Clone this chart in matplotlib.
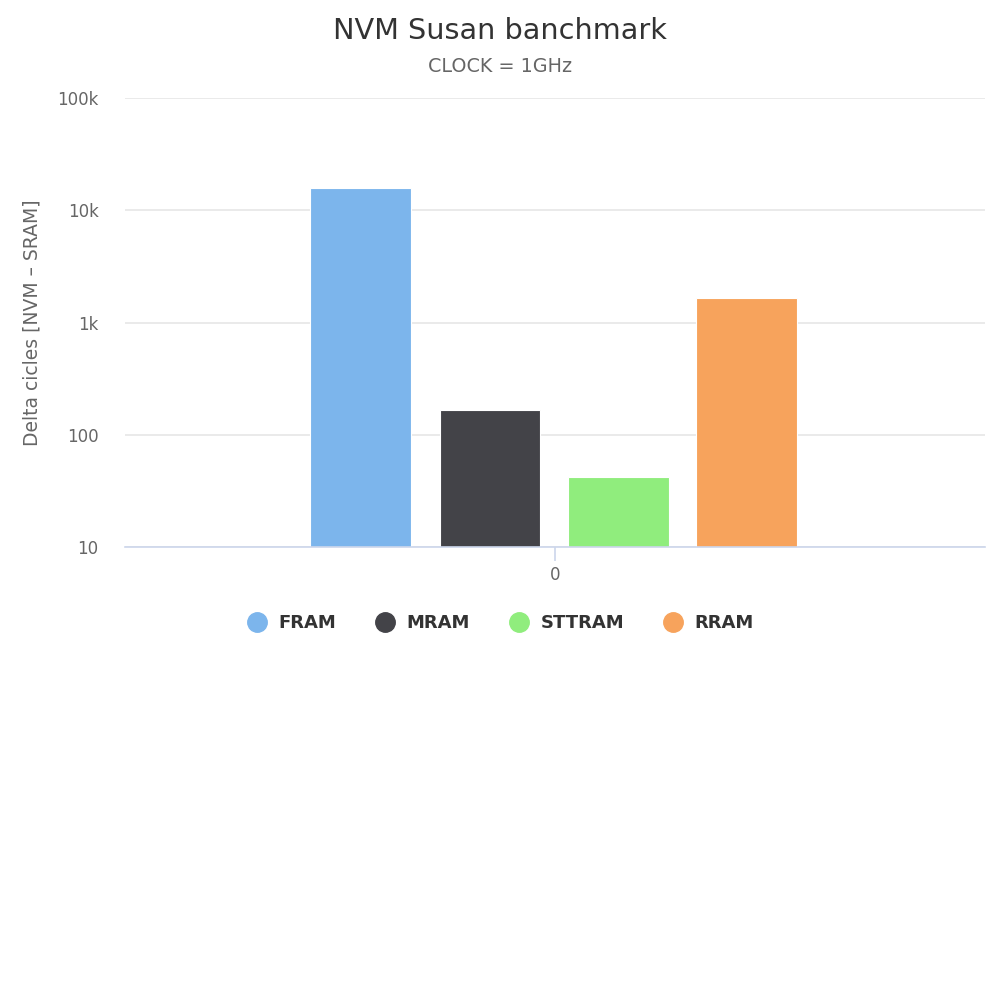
import matplotlib
matplotlib.use("Agg")
import matplotlib.pyplot as plt
from matplotlib.lines import Line2D

categories = ["0"]
series_names = ["FRAM", "MRAM", "STTRAM", "RRAM"]
series_values = [15800, 166, 42, 1650]
colors = ["#7cb5ec", "#434348", "#90ed7d", "#f7a35c"]
y_ticks = [10, 100, 1000, 10000, 100000]
y_tick_labels = ["10", "100", "1k", "10k", "100k"]

plt.rcParams['font.family'] = ['DejaVu Sans']

fig = plt.figure(figsize=(10, 10), dpi=100)
ax = fig.add_axes([0.125, 0.453, 0.86, 0.449])

base = 10
offsets = [-0.226, -0.0756, 0.0738, 0.2227]
width = 0.1174
for name, val, col, off in zip(series_names, series_values, colors, offsets):
    ax.bar(0 + off, val - base, width=width, bottom=base, color=col, edgecolor='white', linewidth=0.8, zorder=3)

ax.set_yscale('log')
ax.set_ylim(10, 100000)
ax.set_xlim(-0.5, 0.5)
ax.set_yticks(y_ticks)
ax.set_yticklabels(y_tick_labels)
ax.yaxis.set_minor_locator(matplotlib.ticker.NullLocator())
ax.set_xticks([0])
ax.set_xticklabels(categories)
ax.grid(axis='y', color='#e6e6e6', linewidth=1.2, zorder=0)
for s in ['top', 'right', 'left']:
    ax.spines[s].set_visible(False)
ax.spines['bottom'].set_color('#ccd6eb')
ax.spines['bottom'].set_linewidth(1.2)
ax.spines['bottom'].set_zorder(4)
ax.tick_params(axis='y', length=0, labelsize=12, labelcolor='#666666', pad=19)
ax.tick_params(axis='x', length=10, color='#ccd6eb', width=1.2, labelsize=12, labelcolor='#666666', pad=4)

ax.set_ylabel("Delta cicles [NVM \u2013 SRAM]", fontsize=13.5, color='#666666', labelpad=11)

fig.text(0.5, 0.969, "NVM Susan banchmark", ha='center', va='center', fontsize=20.7, color='#333333')
fig.text(0.5, 0.933, "CLOCK = 1GHz", ha='center', va='center', fontsize=13.8, color='#666666')

handles = [Line2D([0], [0], marker='o', linestyle='', markersize=14, markerfacecolor=c, markeredgecolor=c) for c in colors]
leg = fig.legend(handles, series_names, loc='center', bbox_to_anchor=(0.5, 0.377), ncol=4, frameon=False,
                 prop={'weight': 'bold', 'size': 13}, handletextpad=0.6, columnspacing=2.1, handlelength=1.2)
for t in leg.get_texts():
    t.set_color('#333333')

fig.savefig("out.png", dpi=100, facecolor='white')
